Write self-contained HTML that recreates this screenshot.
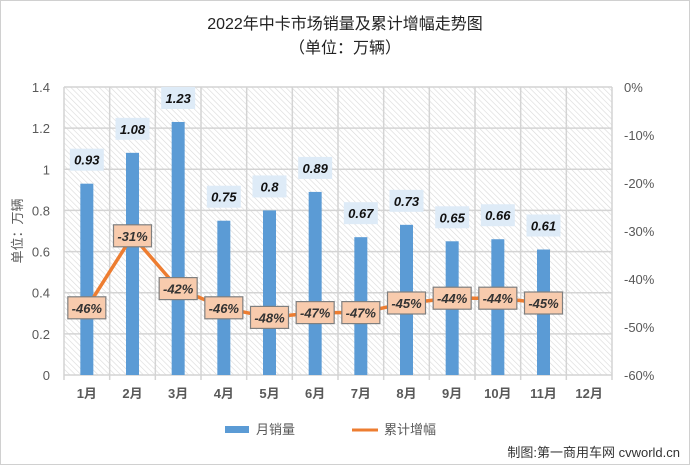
<!DOCTYPE html>
<html><head><meta charset="utf-8"><style>
body{margin:0;background:#fff;}
svg{display:block;font-family:"Liberation Sans","Noto Sans CJK SC",sans-serif;}
</style></head><body>
<svg id="chart" width="690" height="465" viewBox="0 0 690 465">
<defs>
<pattern id="hatch" width="4" height="4" patternUnits="userSpaceOnUse" patternTransform="rotate(-45)">
<rect width="4" height="4" fill="#fff"/><line x1="0" y1="0" x2="0" y2="4" stroke="#d9d9d9" stroke-width="1.2"/>
</pattern>
</defs>
<rect x="0.5" y="0.5" width="689" height="464" fill="#fff" stroke="#d0d0d0"/>
<text x="345" y="29" text-anchor="middle" font-size="16" fill="#222">2022年中卡市场销量及累计增幅走势图</text>
<text x="345" y="53" text-anchor="middle" font-size="16" fill="#222">（单位：万辆）</text>
<rect x="64" y="87" width="548" height="288" fill="url(#hatch)"/>
<g id="grid"></g>
<g id="bars"></g>
<g id="line"></g>
<g id="labels"></g>
<g id="axes"></g>
<text transform="translate(22,231) rotate(-90)" text-anchor="middle" font-size="13" fill="#595959">单位：万辆</text>
<g>
<rect x="225" y="426" width="24" height="7" fill="#5b9bd5"/>
<text x="256" y="434" font-size="13" fill="#595959">月销量</text>
<line x1="352" y1="430" x2="378" y2="430" stroke="#ed7d31" stroke-width="3"/>
<text x="384" y="434" font-size="13" fill="#595959">累计增幅</text>
</g>
<text x="680" y="457" text-anchor="end" font-size="13" fill="#333">制图:第一商用车网 cvworld.cn</text>
</svg>
<script>
const categories=["1月","2月","3月","4月","5月","6月","7月","8月","9月","10月","11月","12月"];
const sales=[0.93,1.08,1.23,0.75,0.8,0.89,0.67,0.73,0.65,0.66,0.61];
const growth=[-46,-31,-42,-46,-48,-47,-47,-45,-44,-44,-45];
const leftTicks=[0,0.2,0.4,0.6,0.8,1,1.2,1.4];
const rightTicks=[0,-10,-20,-30,-40,-50,-60];
const NS="http://www.w3.org/2000/svg";
const X0=64,X1=612,Y0=375,Y1=87,cw=(X1-X0)/categories.length;
const xc=i=>X0+cw*(i+0.5);
const yL=v=>Y0-(v/1.4)*(Y0-Y1);
const yR=v=>Y1+(-v/60)*(Y0-Y1);
function mk(tag,attrs,parent,txt){const e=document.createElementNS(NS,tag);for(const k in attrs)e.setAttribute(k,attrs[k]);if(txt!==undefined)e.textContent=txt;document.getElementById(parent).appendChild(e);return e;}
leftTicks.forEach(t=>{
 const g=mk('line',{x1:X0,x2:X1,y1:yL(t),y2:yL(t),stroke:'#d4d4d4','stroke-width':1.5},'grid');
 
 
 const l=mk('text',{x:50,y:yL(t)+5,'text-anchor':'end','font-size':13,fill:'#595959'},'axes',String(t));
 
 
});
for(let i=0;i<=categories.length;i++){
 const v=mk('line',{x1:X0+cw*i,x2:X0+cw*i,y1:Y1,y2:Y0+5,stroke:'#d4d4d4','stroke-width':1.5},'grid');
 
 
}
rightTicks.forEach(t=>{
 const l=mk('text',{x:624,y:yR(t)+5,'font-size':13,fill:'#595959'},'axes',t+'%');
 
 
});
categories.forEach((c,i)=>{
 const l=mk('text',{x:xc(i),y:398,'text-anchor':'middle','font-size':13,'font-weight':'bold',fill:'#595959'},'axes',c);
 
 
});
sales.forEach((v,i)=>{
 const b=mk('rect',{x:xc(i)-6.5,y:yL(v),width:13,height:Y0-yL(v),fill:'#5b9bd5'},'bars');
 
 
 const bg=mk('rect',{x:xc(i)-17,y:yL(v)-35,width:34,height:22,fill:'#deebf7'},'labels');
 
 
 const t=mk('text',{x:xc(i),y:yL(v)-19,'text-anchor':'middle','font-size':13,'font-weight':'bold','font-style':'italic',fill:'#111'},'labels',String(v));
 
 
});
const pts=growth.map((g,i)=>xc(i)+','+yR(g)).join(' ');
const pl=mk('polyline',{points:pts,fill:'none',stroke:'#ed7d31','stroke-width':3.5},'line');


growth.forEach((g,i)=>{
 const r=mk('rect',{x:xc(i)-19,y:yR(g)-11,width:38,height:22,fill:'#f8cbad',stroke:'#7f7f7f','stroke-width':1.2},'labels');
 
 
 const t=mk('text',{x:xc(i),y:yR(g)+5,'text-anchor':'middle','font-size':13,'font-style':'italic','font-weight':'bold',fill:'#333'},'labels',g+'%');
 
 
});
</script>
</body></html>
